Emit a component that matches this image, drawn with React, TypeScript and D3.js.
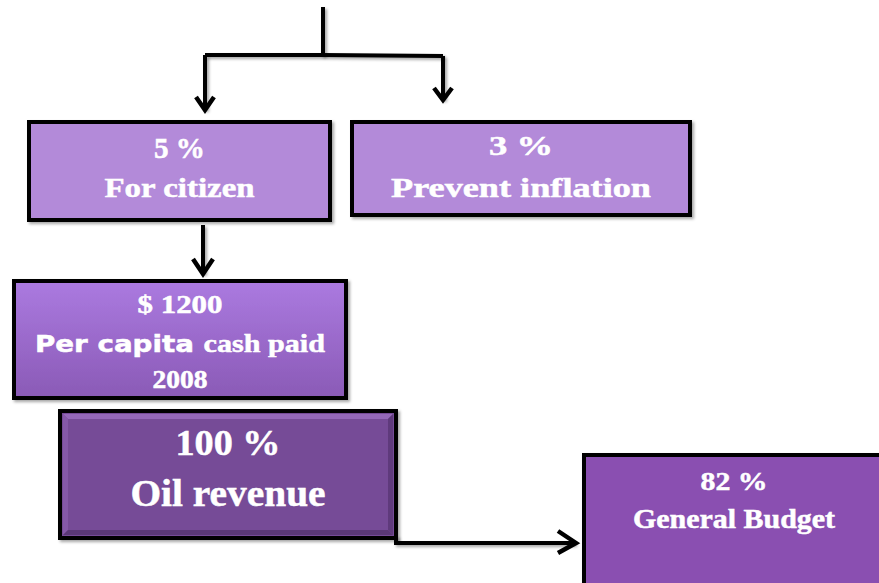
import { useEffect, useRef } from 'react';
import { select, line } from 'd3';

// boxes of the flow: id, text lines, layout
const boxIds = ['citizen', 'inflation', 'percapita', 'oil', 'budget'];
const boxLines = [
  ['5 %', 'For citizen'],
  ['3 %', 'Prevent inflation'],
  ['$ 1200', 'Per capita cash paid', '2008'],
  ['100 %', 'Oil revenue'],
  ['82 %', 'General Budget'],
];
const boxRects = [
  [29, 122, 301, 98],
  [352, 122, 338, 93],
  [14, 281, 332, 117],
  [60, 411, 336, 127],
  [584, 455, 300, 132],
];
const boxFills = ['#b38ad9', '#b38ad9', 'url(#gradPer)', '#764c97', '#8a50b1'];
// per line: baseline y, font size, text width
const lineBaselines = [
  [158, 197],
  [155, 197],
  [313, 352, 388],
  [455, 506],
  [490, 528],
];
const lineSizes = [
  [29, 28],
  [28, 28],
  [26, 25, 25],
  [36, 38],
  [26, 27],
];
const lineWidths = [
  [51, 150],
  [64, 260],
  [85, 290, 55],
  [105, 195],
  [67, 202],
];

// connectors as polylines, arrowheads as chevrons
const connectors = [
  [[323, 7], [323, 56]],
  [[205, 55], [323, 55], [443, 56]],
  [[205, 55], [205, 110]],
  [[443, 56], [443, 100]],
  [[203, 225], [203, 274]],
  [[396, 536], [396, 543], [575, 543]],
];
const arrowHeads = [
  [[196, 97], [205, 110], [214, 97]],
  [[434, 88], [443, 100], [452, 88]],
  [[193, 259], [203, 274], [213, 259]],
  [[558, 531], [576, 543], [558, 553]],
];

const FlowChart = () => {
  const svgRef = useRef(null);

  useEffect(() => {
    const svg = select(svgRef.current);
    svg.selectAll('*').remove();

    const defs = svg.append('defs');
    const grad = defs
      .append('linearGradient')
      .attr('id', 'gradPer')
      .attr('x1', 0)
      .attr('y1', 0)
      .attr('x2', 0)
      .attr('y2', 1);
    grad.append('stop').attr('offset', '0%').attr('stop-color', '#ab7ae0');
    grad.append('stop').attr('offset', '100%').attr('stop-color', '#8a5ab6');

    const shadow = defs
      .append('filter')
      .attr('id', 'shadow')
      .attr('filterUnits', 'userSpaceOnUse')
      .attr('x', 0)
      .attr('y', 0)
      .attr('width', 879)
      .attr('height', 583);
    shadow
      .append('feDropShadow')
      .attr('dx', 2)
      .attr('dy', 2)
      .attr('stdDeviation', 1.5)
      .attr('flood-color', '#000')
      .attr('flood-opacity', 0.35);

    const path = line();

    svg
      .selectAll('.conn')
      .data(connectors)
      .join('path')
      .attr('class', 'conn')
      .attr('d', (d) => path(d))
      .attr('fill', 'none')
      .attr('stroke', '#000')
      .attr('stroke-width', 4)
      .attr('filter', 'url(#shadow)');

    svg
      .selectAll('.head')
      .data(arrowHeads)
      .join('path')
      .attr('class', 'head')
      .attr('d', (d) => path(d))
      .attr('fill', 'none')
      .attr('stroke', '#000')
      .attr('stroke-width', 4.5)
      .attr('stroke-linejoin', 'miter');

    const boxes = svg
      .selectAll('.box')
      .data(boxIds.map((id, i) => ({ id, i })))
      .join('g')
      .attr('class', 'box');

    boxes
      .append('rect')
      .attr('x', (d) => boxRects[d.i][0])
      .attr('y', (d) => boxRects[d.i][1])
      .attr('width', (d) => boxRects[d.i][2])
      .attr('height', (d) => boxRects[d.i][3])
      .attr('fill', (d) => boxFills[d.i])
      .attr('stroke', '#000')
      .attr('stroke-width', 4)
      .attr('filter', 'url(#shadow)');

    // bevel on the oil revenue box
    const oil = boxIds.indexOf('oil');
    const [ox, oy, ow, oh] = boxRects[oil];
    svg
      .append('path')
      .attr('d', path([[ox + 3, oy + 3], [ox + ow - 3, oy + 3], [ox + ow - 8, oy + 8], [ox + 8, oy + 8]]))
      .attr('fill', '#9468b8');
    svg
      .append('path')
      .attr('d', path([[ox + 3, oy + 3], [ox + 8, oy + 8], [ox + 8, oy + oh - 8], [ox + 3, oy + oh - 3]]))
      .attr('fill', '#8558a8');
    svg
      .append('path')
      .attr('d', path([[ox + ow - 3, oy + 3], [ox + ow - 3, oy + oh - 3], [ox + ow - 8, oy + oh - 8], [ox + ow - 8, oy + 8]]))
      .attr('fill', '#5f3a7c');
    svg
      .append('path')
      .attr('d', path([[ox + 3, oy + oh - 3], [ox + ow - 3, oy + oh - 3], [ox + ow - 8, oy + oh - 8], [ox + 8, oy + oh - 8]]))
      .attr('fill', '#5a3876');

    boxIds.forEach((id, i) => {
      const cx = boxRects[i][0] + boxRects[i][2] / 2;
      boxLines[i].forEach((txt, j) => {
        const t = svg
          .append('text')
          .attr('x', cx)
          .attr('y', lineBaselines[i][j])
          .attr('text-anchor', 'middle')
          .attr('fill', '#fff')
          .attr('stroke', '#fff')
          .attr('stroke-width', 0.5)
          .attr('font-family', '"Liberation Serif", "Times New Roman", serif')
          .attr('font-weight', 'bold')
          .attr('font-size', lineSizes[i][j])
          .attr('textLength', lineWidths[i][j])
          .attr('lengthAdjust', 'spacingAndGlyphs');
        if (id === 'percapita' && j === 1) {
          const words = txt.split(' ');
          t.append('tspan')
            .attr('font-family', '"DejaVu Sans", Verdana, sans-serif')
            .attr('font-size', 23)
            .text(words.slice(0, 2).join(' ') + ' ');
          t.append('tspan').text(words.slice(2).join(' '));
        } else {
          t.text(txt);
        }
      });
    });
  }, []);

  return (
    <div
      style={{
        position: 'fixed',
        left: 0,
        top: 0,
        width: 879,
        height: 583,
        overflow: 'hidden',
        background: '#fff',
      }}
    >
      <svg ref={svgRef} width={879} height={583} style={{ display: 'block' }} />
    </div>
  );
};

export default function App() {
  return <FlowChart />;
}
